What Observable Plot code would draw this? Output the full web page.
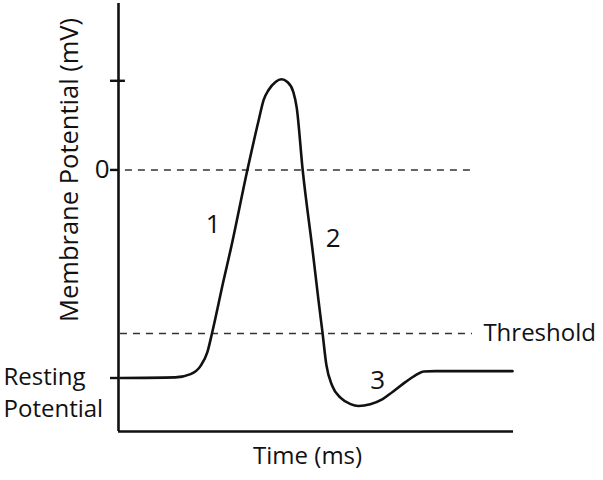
<!DOCTYPE html>
<html>
<head>
<meta charset="utf-8">
<script src="https://cdn.jsdelivr.net/npm/d3@7"></script>
<script src="https://cdn.jsdelivr.net/npm/@observablehq/plot@0.6"></script>
<style>
  html, body { margin: 0; padding: 0; background: #fff; }
  svg { display: block; }
</style>
</head>
<body>
<div id="chart"></div>
<script>
// Action potential trace: time (ms) vs membrane potential (mV)
const timeMs = [0.04, 1.15, 1.46, 1.66, 1.80, 1.90, 2.13, 2.27, 2.61, 2.84, 2.94, 3.04, 3.18, 3.30, 3.42, 3.54, 3.61, 3.73, 3.93, 4.05, 4.13, 4.21, 4.33, 4.50, 4.70, 4.86, 5.10, 5.35, 5.55, 5.81, 6.02, 6.18, 6.42, 7.98];
const potentialMv = [-70, -69.8, -68.7, -66, -61.3, -54.5, -37, -26.9, 0, 16.8, 23.6, 26.9, 29.6, 30.5, 29.6, 26.3, 20.9, 0, -26.9, -43.8, -54.5, -65.6, -72.7, -76.7, -78.8, -79.4, -78.8, -77.1, -74.7, -71.4, -69, -67.8, -67.7, -67.7];

// Reference levels
const zeroMv = 0;
const thresholdMv = -55;
const restingMv = -70;
const peakTickMv = 30;

// Phase labels
const phaseText = ["1", "2", "3"];
const phaseTime = [1.92, 4.35, 5.25];
const phaseMv = [-18.4, -23, -70.8];

const trace = timeMs.map((t, i) => ({t, v: potentialMv[i]}));
const phases = phaseText.map((s, i) => ({s, t: phaseTime[i], v: phaseMv[i]}));

const font = "'Open Sans', 'Noto Sans', sans-serif";
const ink = "#111";

const chart = Plot.plot({
  width: 603,
  height: 480,
  marginLeft: 118,
  marginRight: 90,
  marginTop: 3,
  marginBottom: 49,
  style: {fontFamily: font, background: "#fff", color: ink},
  x: {domain: [0, 8], axis: null},
  y: {domain: [-88, 56], axis: null},
  marks: [
    // dashed reference lines
    Plot.ruleY([zeroMv], {x1: 0.14, x2: 7.17, stroke: "#333", strokeWidth: 1.5, strokeDasharray: "7,6"}),
    Plot.ruleY([thresholdMv], {x1: 0.04, x2: 7.17, stroke: "#333", strokeWidth: 1.5, strokeDasharray: "7,6"}),
    // axes
    Plot.ruleX([0], {y1: -88, y2: 56, stroke: ink, strokeWidth: 2.6}),
    Plot.ruleY([-88], {x1: 0, x2: 8, stroke: ink, strokeWidth: 2.6}),
    Plot.axisY({ticks: [peakTickMv, zeroMv, restingMv], tickSize: 8, tickPadding: 1, strokeWidth: 2.4,
      tickFormat: d => d === zeroMv ? "0" : "", label: null, fontSize: 26, fill: ink}),
    Plot.ruleY([peakTickMv], {x1: 0, x2: 0.14, stroke: ink, strokeWidth: 2.4}),
    // trace
    Plot.line(trace, {x: "t", y: "v", curve: "monotone-x", stroke: ink, strokeWidth: 2.6}),
    // labels
    Plot.text(phases, {x: "t", y: "v", text: "s", fontSize: 26, fill: ink}),
    Plot.text(["Threshold"], {x: 7.39, y: thresholdMv, textAnchor: "start", fontSize: 24, fill: ink}),
    Plot.text(["Resting\nPotential"], {x: 0, y: restingMv, dx: -115, dy: 13, textAnchor: "start", lineHeight: 1.32, fontSize: 24, fill: ink}),
    Plot.text(["Time (ms)"], {frameAnchor: "bottom", x: 3.83, dy: 32, fontSize: 24, fill: ink}),
    Plot.text(["Membrane Potential (mV)"], {x: -0.98, y: zeroMv, rotate: -90, fontSize: 25.5, fill: ink})
  ]
});

document.getElementById("chart").appendChild(chart);
</script>
</body>
</html>
